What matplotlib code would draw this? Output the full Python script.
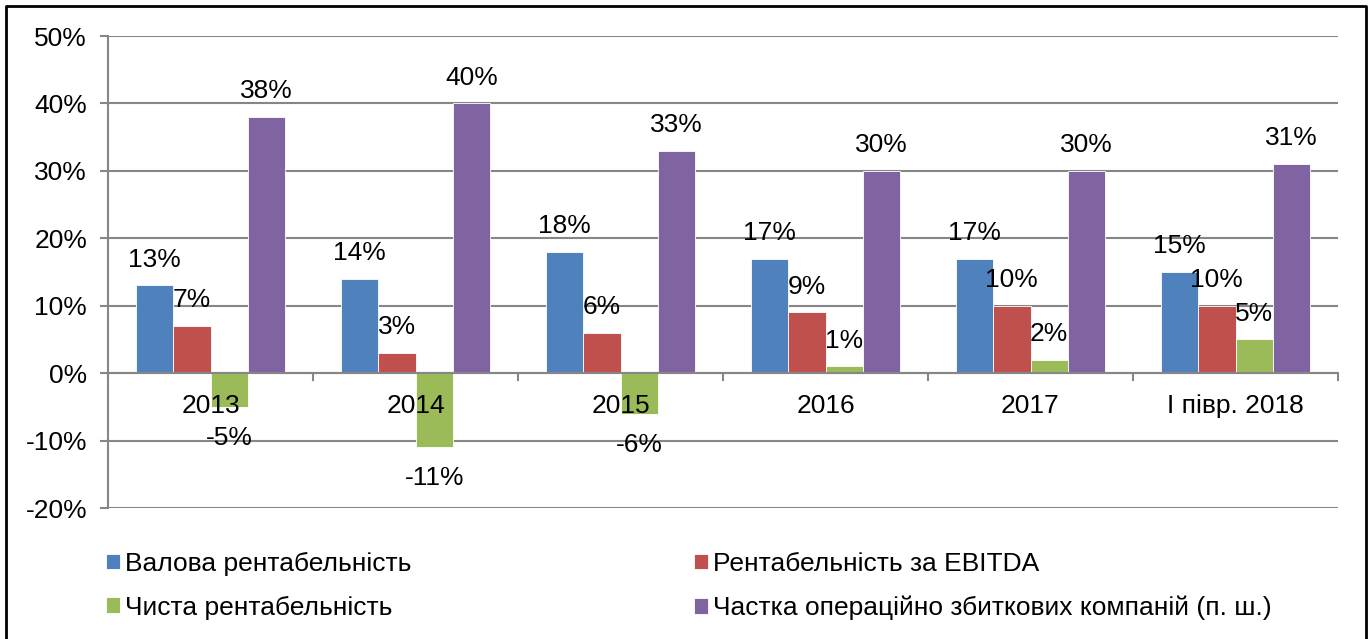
import numpy as np
import matplotlib
matplotlib.use('Agg')
import matplotlib.pyplot as plt
from matplotlib.lines import Line2D

plt.rcParams['font.family'] = ['Liberation Sans', 'DejaVu Sans']

categories = ['2013', '2014', '2015', '2016', '2017', 'І півр. 2018']
gross = [13, 14, 18, 17, 17, 15]
ebitda = [7, 3, 6, 9, 10, 10]
net = [-5, -11, -6, 1, 2, 5]
loss_share = [38, 40, 33, 30, 30, 31]

series = [
    ('Валова рентабельність', gross, '#4F81BD'),
    ('Рентабельність за EBITDA', ebitda, '#C0504D'),
    ('Чиста рентабельність', net, '#9BBB59'),
    ('Частка операційно збиткових компаній (п. ш.)', loss_share, '#8064A2'),
]

FS = 19
GRID = '#868686'

fig = plt.figure(figsize=(13.7, 6.39), dpi=100)
ax = fig.add_axes([108 / 1370, 1 - 508 / 639, (1338 - 108) / 1370, (508 - 36) / 639])

x = np.arange(len(categories))
bw = 1 / 5.5
for i, (name, vals, col) in enumerate(series):
    pos = x - 2 * bw + (i + 0.5) * bw
    ax.bar(pos, vals, width=bw, color=col, label=name, zorder=3,
           edgecolor='white', linewidth=0.6)
    for p, v in zip(pos, vals):
        off = 3.8 if v >= 0 else -4.6
        ax.text(p, v + off, f'{v}%', ha='center', va='center', fontsize=FS, zorder=4)

ax.set_xlim(-0.5, len(categories) - 0.5)
ax.set_ylim(-20, 50)
ax.set_yticks(range(-20, 51, 10))
ax.set_yticklabels([f'{t}%' for t in range(-20, 51, 10)], fontsize=FS)
ax.yaxis.grid(True, color=GRID, linewidth=1.5, zorder=0)
ax.tick_params(axis='y', length=6, width=1.5, color=GRID, pad=9)

for s in ['top', 'right', 'bottom']:
    ax.spines[s].set_visible(False)
ax.spines['left'].set_color(GRID)
ax.spines['left'].set_linewidth(1.5)

# category axis at zero with boundary ticks
ax.axhline(0, color=GRID, linewidth=1.5, zorder=3.5)
ax.set_xticks([])
for b in np.arange(-0.5, len(categories) + 0.5, 1):
    ax.plot([b, b], [0, -1.0], color=GRID, linewidth=1.5, zorder=3.5, clip_on=False)
for xi, c in zip(x, categories):
    ax.text(xi, -4.8, c, ha='center', va='center', fontsize=FS, zorder=5)

handles, labels = ax.get_legend_handles_labels()
order = [0, 2, 1, 3]
fig.legend([handles[i] for i in order], [labels[i] for i in order],
           ncol=2, loc='center left', bbox_to_anchor=(106 / 1370, 1 - 586 / 639),
           frameon=False, fontsize=FS, handlelength=0.53, handleheight=0.55,
           handletextpad=0.2, columnspacing=10.7, labelspacing=0.75,
           borderpad=0, borderaxespad=0)

# outer frame (no bottom edge)
fx = [6 / 1370, 6 / 1370, 1366 / 1370, 1366 / 1370]
fy = [0, 1 - 6 / 639, 1 - 6 / 639, 0]
fig.add_artist(Line2D(fx, fy, transform=fig.transFigure, color='black', linewidth=2))

fig.savefig('out.png', dpi=100)
